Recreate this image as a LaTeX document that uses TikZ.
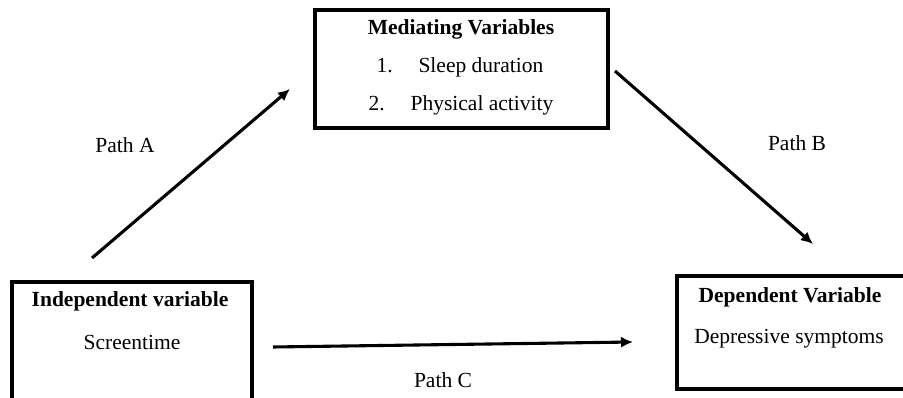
\documentclass[tikz,border=0pt]{standalone}
\usepackage{fontspec}
\setmainfont{Liberation Serif}
\usetikzlibrary{arrows.meta,positioning}
\definecolor{Ink}{HTML}{000000}
\tikzset{
  varbox/.style={draw=Ink,line width=2.7pt,fill=white,inner sep=0pt},
  boxtitle/.style={font=\fontsize{15.3}{18}\selectfont\bfseries,text=Ink,inner sep=0pt},
  boxtext/.style={font=\fontsize{15.3}{18}\selectfont,text=Ink,inner sep=0pt},
  pathlabel/.style={font=\fontsize{15.3}{18}\selectfont,text=Ink,inner sep=0pt},
  arrow/.style={-{Latex[length=3mm,width=2.8mm]},line width=2.2pt,draw=Ink}
}
\begin{document}
\begin{tikzpicture}[x=0.025cm,y=-0.025cm]
  \useasboundingbox (0,0) rectangle (903,398);
  \node[varbox,minimum width=7.325cm,minimum height=2.95cm] (med) at (461.5,69) {};
  \node[varbox,minimum width=6cm,minimum height=3cm] (ind) at (132,342) {};
  \node[varbox,minimum width=5.9cm,minimum height=2.825cm] (dep) at (795,332.5) {};
  \node[boxtitle] (medtitle) at (461,29) {Mediating Variables};
  \node[boxtext] (sleep) at (460,67) {1.\hspace{1.2em}Sleep duration};
  \node[boxtext] (activity) at (461,105) {2.\hspace{1.2em}Physical activity};
  \node[boxtitle] (indtitle) at (130,301) {Independent variable};
  \node[boxtext] (screen) at (132,342) {Screentime};
  \node[boxtitle] (deptitle) at (790,297) {Dependent Variable};
  \node[boxtext] (symptoms) at (789,339) {Depressive symptoms};
  \coordinate (astart) at (92,258);
  \coordinate (aend) at (290,89);
  \coordinate (bstart) at (615,71);
  \coordinate (bend) at (813,244);
  \coordinate (cstart) at (273,347);
  \coordinate (cend) at (633,342);
  \draw[arrow] (astart) -- (aend);
  \draw[arrow] (bstart) -- (bend);
  \draw[arrow] (cstart) -- (cend);
  \node[pathlabel] (patha) at (125,145) {Path A};
  \node[pathlabel] (pathb) at (797,143) {Path B};
  \node[pathlabel] (pathc) at (443,380) {Path C};
\end{tikzpicture}
\end{document}
